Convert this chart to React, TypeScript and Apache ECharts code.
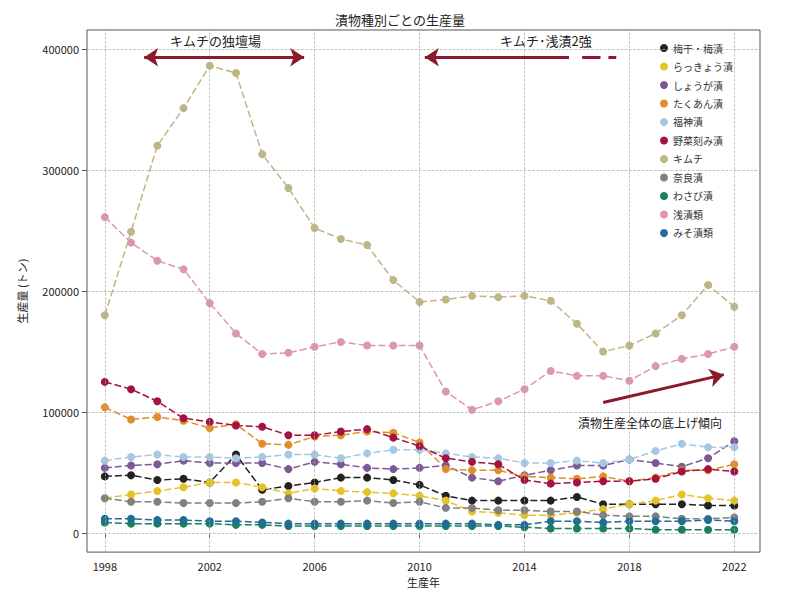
import React, { useEffect, useRef } from "react";
import * as echarts from "echarts";

const years = [1998, 1999, 2000, 2001, 2002, 2003, 2004, 2005, 2006, 2007, 2008, 2009, 2010, 2011, 2012, 2013, 2014, 2015, 2016, 2017, 2018, 2019, 2020, 2021, 2022];
const xTicks = [1998, 2002, 2006, 2010, 2014, 2018, 2022];
const yTicks = [0, 100000, 200000, 300000, 400000];

const names = ["梅干・梅漬", "らっきょう漬", "しょうが漬", "たくあん漬", "福神漬", "野菜刻み漬", "キムチ", "奈良漬", "わさび漬", "浅漬類", "みそ漬類"];
const colors = ["#222222", "#e6c229", "#7b5a96", "#de8f2c", "#a6c8e3", "#a3133d", "#bfb685", "#808080", "#1a7f5a", "#dc97ad", "#1f6c94"];

// 千トン
const ume = [47, 48, 44, 45, 42, 65, 36, 39, 42, 46, 46, 44, 40, 31, 27, 27, 27, 27, 30, 24, 24, 24, 24, 23, 23];
const rakkyo = [29, 32, 35, 38, 42, 42, 38, 33, 37, 35, 34, 33, 31, 27, 18, 17, 15, 15, 17, 20, 24, 27, 32, 29, 27];
const shoga = [54, 56, 57, 60, 58, 58, 58, 53, 59, 57, 54, 53, 54, 56, 46, 43, 48, 52, 56, 56, 61, 58, 55, 62, 76];
const takuan = [104, 94, 96, 93, 87, 90, 74, 73, 80, 81, 84, 83, 75, 53, 52, 52, 47, 46, 45, 47, 43, 46, 52, 52, 57];
const fukujin = [60, 63, 65, 63, 63, 62, 63, 65, 65, 62, 66, 69, 69, 66, 63, 62, 58, 58, 60, 58, 61, 68, 74, 71, 71];
const yasai = [125, 119, 109, 95, 92, 89, 88, 81, 81, 84, 86, 79, 72, 62, 59, 57, 44, 41, 42, 43, 43, 45, 51, 53, 51];
const kimchi = [180, 249, 320, 351, 386, 380, 313, 285, 252, 243, 238, 209, 191, 193, 196, 195, 196, 192, 173, 150, 155, 165, 180, 205, 187];
const nara = [29, 26, 26, 25, 25, 25, 26, 29, 26, 26, 27, 25, 26, 21, 21, 19, 19, 18, 18, 15, 14, 14, 12, 12, 13];
const wasabi = [9, 8, 8, 8, 8, 7, 7, 6, 6, 6, 6, 6, 6, 6, 6, 6, 5, 4, 4, 4, 4, 3, 3, 3, 3];
const asazuke = [261, 240, 225, 218, 190, 165, 148, 149, 154, 158, 155, 155, 155, 117, 102, 109, 119, 134, 130, 130, 126, 138, 144, 148, 154];
const miso = [12, 12, 11, 11, 10, 10, 9, 8, 8, 8, 8, 8, 8, 8, 8, 7, 7, 10, 10, 9, 10, 10, 10, 11, 10];

const seriesValues = [ume, rakkyo, shoga, takuan, fukujin, yasai, kimchi, nara, wasabi, asazuke, miso];

const arrowColor = "#8b1a2e";
const font = "Noto Sans CJK JP";

export default function App() {
  const chartRef = useRef<HTMLDivElement>(null);

  useEffect(() => {
    const chart = echarts.init(chartRef.current as HTMLDivElement, null, { renderer: "svg" });
    const solid = { color: arrowColor, width: 3, type: "solid" };
    const seg = (a: number[], b: number[], s0: string, s1: string) => [
      { coord: a, symbol: s0, lineStyle: solid },
      { coord: b, symbol: s1 },
    ];
    const series: any[] = seriesValues.map((vals, i) => ({
      name: names[i],
      type: "line",
      data: vals.map((v, j) => [years[j], v * 1000]),
      symbol: "circle",
      symbolSize: 8,
      lineStyle: { width: 1.5, color: colors[i], type: [7, 3] },
      itemStyle: { color: colors[i] },
      z: 3,
    }));
    series.push({
      name: "grid",
      type: "line",
      data: [],
      z: 1,
      markLine: {
        silent: true,
        symbol: "none",
        label: { show: false },
        lineStyle: { color: "#aaaaaa", type: "dashed", width: 0.7 },
        data: [
          ...xTicks.map((x) => ({ xAxis: x })),
          ...yTicks.map((y) => ({ yAxis: y })),
        ],
      },
    });
    series.push({
      name: "arrows",
      type: "line",
      data: [],
      z: 4,
      markLine: {
        silent: true,
        symbolSize: 14,
        label: { show: false },
        data: [
          seg([1999.5, 393000], [2005.6, 393000], "arrow", "arrow"),
          seg([2015.7, 393000], [2010.2, 393000], "none", "arrow"),
          seg([2016.2, 393000], [2016.9, 393000], "none", "none"),
          seg([2017.2, 393000], [2017.5, 393000], "none", "none"),
          seg([2017.0, 108000], [2021.6, 131000], "none", "arrow"),
        ],
      },
    });

    const option = {
      animation: false,
      textStyle: { fontFamily: font },
      title: {
        text: "漬物種別ごとの生産量",
        left: "center",
        top: 0,
        textStyle: { fontSize: 13, fontWeight: "normal", color: "#222", fontFamily: font },
      },
      legend: {
        data: names,
        orient: "vertical",
        left: 647,
        top: 30,
        itemGap: 8.5,
        icon: "circle",
        itemWidth: 8,
        itemHeight: 8,
        textStyle: { fontSize: 10, color: "#333", fontFamily: font },
      },
      grid: { left: 72, right: 32, top: 22, bottom: 35, show: true, borderColor: "#555", borderWidth: 1 },
      xAxis: {
        type: "value",
        min: 1997.32,
        max: 2022.98,
        name: "生産年",
        nameLocation: "middle",
        nameGap: 22,
        nameTextStyle: { fontSize: 11, color: "#222" },
        splitLine: { show: false },
        axisLine: { show: false },
        axisTick: { show: true, customValues: xTicks, lineStyle: { color: "#555" } },
        axisLabel: { customValues: xTicks, fontSize: 11, color: "#222", formatter: (v: number) => String(v) },
      },
      yAxis: {
        type: "value",
        min: -15500,
        max: 415500,
        name: "生産量 (トン)",
        nameLocation: "middle",
        nameGap: 60,
        nameTextStyle: { fontSize: 11, color: "#222" },
        splitLine: { show: false },
        axisLine: { show: false },
        axisTick: { show: true, customValues: yTicks, lineStyle: { color: "#555" } },
        axisLabel: { customValues: yTicks, fontSize: 11, color: "#222", formatter: (v: number) => String(v) },
      },
      graphic: [
        { type: "text", left: 162, top: 26, style: { text: "キムチの独壇場", fontSize: 13, fill: "#222", fontFamily: font } },
        { type: "text", left: 492, top: 26, style: { text: "キムチ･浅漬2強", fontSize: 13, fill: "#222", fontFamily: font } },
        { type: "text", left: 570, top: 408, style: { text: "漬物生産全体の底上げ傾向", fontSize: 12, fill: "#222", fontFamily: font } },
      ],
      series,
    };
    chart.setOption(option);
    return () => chart.dispose();
  }, []);

  return <div ref={chartRef} style={{ width: 784, height: 584 }} />;
}
